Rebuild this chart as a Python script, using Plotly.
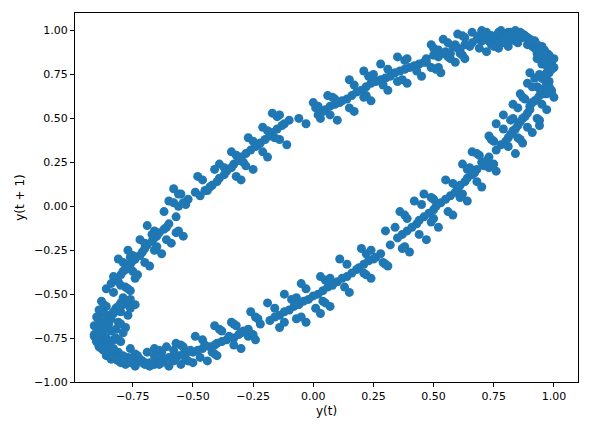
import plotly.graph_objects as go

series = [
    0.05, 0.55, 0.88, 0.97, 0.70, 0.25, -0.30, -0.72, -0.87, -0.82, -0.42,
    0.12, 0.60, 0.90, 0.95, 0.66, 0.18, -0.36, -0.76, -0.88, -0.78, -0.36,
    0.20, 0.66, 0.93, 0.92, 0.60, 0.10, -0.43, -0.80, -0.87, -0.74, -0.30,
    0.28, 0.72, 0.96, 0.89, 0.53, 0.02, -0.50, -0.83, -0.86, -0.69, -0.22,
    0.36, 0.77, 0.98, 0.85, 0.46, -0.06, -0.56, -0.85, -0.84, -0.64, -0.15,
    0.44, 0.81, 0.99, 0.81, 0.39, -0.14, -0.62, -0.87, -0.82, -0.58,
    0.02, 0.52, 0.85, 0.95, 0.73, 0.28, -0.27, -0.70, -0.89, -0.80, -0.45,
    0.09, 0.58, 0.91, 0.93, 0.68, 0.21, -0.33, -0.75, -0.86, -0.80, -0.39,
    0.16, 0.63, 0.92, 0.94, 0.63, 0.14, -0.40, -0.78, -0.89, -0.76, -0.33,
    0.24, 0.70, 0.94, 0.90, 0.57, 0.06, -0.46, -0.81, -0.84, -0.71, -0.26,
    0.32, 0.74, 0.97, 0.87, 0.50, -0.02, -0.53, -0.84, -0.87, -0.66, -0.18,
    0.40, 0.79, 0.96, 0.83, 0.43, -0.10, -0.59, -0.86, -0.83, -0.61, -0.12,
    0.47, 0.84, 0.99, 0.78, 0.35, -0.18, -0.65, -0.88, -0.80, -0.55,
    0.07, 0.57, 0.87, 0.98, 0.71, 0.23, -0.31, -0.73, -0.85, -0.83, -0.40,
    0.14, 0.61, 0.89, 0.96, 0.64, 0.16, -0.38, -0.77, -0.86, -0.77, -0.34,
    0.22, 0.68, 0.95, 0.91, 0.59, 0.08, -0.45, -0.79, -0.88, -0.72, -0.28,
    0.30, 0.73, 0.94, 0.88, 0.51, 0.00, -0.51, -0.82, -0.85, -0.67, -0.20,
    0.38, 0.78, 1.00, 0.84, 0.44, -0.08, -0.57, -0.86, -0.85, -0.62, -0.13,
    0.46, 0.82, 0.97, 0.80, 0.37, -0.16, -0.63, -0.87, -0.81, -0.57, -0.06,
    0.50, 0.86, 0.98, 0.76, 0.32, -0.22, -0.67, -0.89, -0.79, -0.52,
    0.04, 0.54, 0.87, 0.96, 0.72, 0.26, -0.29, -0.71, -0.88, -0.81, -0.43,
    0.11, 0.59, 0.92, 0.94, 0.67, 0.19, -0.35, -0.74, -0.87, -0.79, -0.37,
    0.18, 0.65, 0.91, 0.93, 0.61, 0.12, -0.41, -0.79, -0.86, -0.75, -0.31,
    0.26, 0.71, 0.95, 0.90, 0.55, 0.04, -0.48, -0.82, -0.87, -0.70, -0.24,
    0.34, 0.76, 0.97, 0.86, 0.48, -0.04, -0.54, -0.84, -0.85, -0.65, -0.17,
    0.42, 0.80, 0.98, 0.82, 0.41, -0.12, -0.60, -0.86, -0.83, -0.60, -0.10,
    # noisier stretch
    0.49, 0.79, 0.93, 0.84, 0.30, -0.14, -0.69, -0.83, -0.76, -0.58,
    0.10, 0.49, 0.92, 0.90, 0.76, 0.20, -0.24, -0.76, -0.81, -0.86, -0.47,
    0.06, 0.63, 0.84, 1.00, 0.62, 0.24, -0.41, -0.68, -0.91, -0.73, -0.39,
    0.24, 0.60, 0.98, 0.86, 0.64, 0.03, -0.40, -0.85, -0.80, -0.77, -0.25,
    0.21, 0.77, 0.90, 0.94, 0.46, 0.07, -0.57, -0.78, -0.90, -0.63, -0.27,
    0.39, 0.70, 1.00, 0.79, 0.52, -0.12, -0.50, -0.89, -0.78, -0.69, -0.11,
    0.35, 0.85, 0.93, 0.87, 0.36, -0.03, -0.66, -0.81, -0.88, -0.54, -0.17,
    0.53, 0.76, 0.95, 0.73, 0.40, -0.26, -0.60, -0.91, -0.74, -0.56,
    0.00, 0.59, 0.82, 0.99, 0.66, 0.31, -0.34, -0.66, -0.90, -0.76, -0.48,
    0.17, 0.54, 0.95, 0.89, 0.70, 0.11, -0.30, -0.81, -0.83, -0.81, -0.30,
    0.15, 0.72, 0.88, 0.97, 0.55, 0.15, -0.49, -0.74, -0.91, -0.68, -0.34,
    0.31, 0.66, 0.99, 0.83, 0.58, -0.05, -0.44, -0.88, -0.79, -0.72, -0.19,
    0.28, 0.81, 0.91, 0.91, 0.42, 0.03, -0.61, -0.80, -0.89, -0.59, -0.21,
    0.45, 0.74, 0.97, 0.76, 0.47, -0.19, -0.55, -0.90, -0.77, -0.62, -0.03,
    # middle-noise stretch
    0.47, 0.82, 0.95, 0.81, 0.34, -0.12, -0.66, -0.85, -0.79, -0.56,
    0.07, 0.52, 0.89, 0.92, 0.73, 0.22, -0.27, -0.74, -0.84, -0.84, -0.44,
    0.09, 0.61, 0.87, 0.97, 0.64, 0.21, -0.38, -0.71, -0.89, -0.75, -0.37,
    0.22, 0.63, 0.96, 0.88, 0.61, 0.05, -0.42, -0.83, -0.82, -0.75, -0.28,
    0.23, 0.74, 0.92, 0.93, 0.50, 0.04, -0.54, -0.80, -0.88, -0.66, -0.25,
    0.37, 0.72, 0.99, 0.82, 0.49, -0.09, -0.53, -0.87, -0.81, -0.66, -0.14,
    0.38, 0.83, 0.95, 0.86, 0.38, -0.05, -0.63, -0.83, -0.86, -0.57, -0.15,
    0.51, 0.78, 0.97, 0.75, 0.37, -0.24, -0.63, -0.89, -0.77, -0.54,
    0.02, 0.57, 0.84, 0.97, 0.69, 0.29, -0.32, -0.68, -0.89, -0.78, -0.46,
    0.15, 0.56, 0.93, 0.91, 0.68, 0.14, -0.33, -0.79, -0.85, -0.79, -0.32,
    0.17, 0.69, 0.90, 0.95, 0.58, 0.13, -0.46, -0.76, -0.89, -0.70, -0.32,
    0.29, 0.69, 0.97, 0.85, 0.56, -0.03, -0.47, -0.86, -0.82, -0.70, -0.21,
    0.31, 0.78, 0.93, 0.89, 0.45, 0.01, -0.58, -0.82, -0.87, -0.61, -0.19,
    0.43, 0.77, 0.99, 0.79, 0.44, -0.16, -0.58, -0.88, -0.80, -0.60,
    # another mixed stretch
    0.03, 0.50, 0.90, 0.94, 0.75, 0.24, -0.25, -0.73, -0.86, -0.83, -0.49,
    0.08, 0.62, 0.86, 0.99, 0.65, 0.22, -0.39, -0.70, -0.90, -0.74, -0.41,
    0.21, 0.62, 0.97, 0.87, 0.62, 0.07, -0.41, -0.84, -0.81, -0.76, -0.29,
    0.25, 0.75, 0.91, 0.94, 0.49, 0.05, -0.55, -0.79, -0.89, -0.65, -0.23,
    0.35, 0.71, 0.98, 0.83, 0.50, -0.07, -0.52, -0.88, -0.80, -0.67, -0.16,
    0.39, 0.84, 0.94, 0.85, 0.39, -0.07, -0.64, -0.82, -0.87, -0.56, -0.14,
    0.52, 0.79, 0.96, 0.74, 0.38, -0.23, -0.64, -0.90, -0.76, -0.53,
    0.01, 0.56, 0.85, 0.98, 0.68, 0.30, -0.33, -0.67, -0.90, -0.77, -0.47,
]

yt = series[:-1]
yt1 = series[1:]

fig = go.Figure(go.Scatter(x=yt, y=yt1, mode="markers",
                           marker=dict(color="#1f77b4", size=9)))

axis = dict(showgrid=False, zeroline=False, showline=True, linecolor="black",
            mirror=True, ticks="outside", ticklen=4, tickcolor="black",
            tickformat=".2f", tickfont=dict(size=11, color="black"))
fig.update_xaxes(axis, range=[-0.99, 1.10], dtick=0.25, tick0=0,
                 title=dict(text="y(t)", font=dict(size=12, color="black"), standoff=4))
fig.update_yaxes(axis, range=[-1.0, 1.1], dtick=0.25, tick0=0,
                 title=dict(text="y(t + 1)", font=dict(size=12, color="black"), standoff=6))
fig.update_layout(width=591, height=436, plot_bgcolor="white", paper_bgcolor="white",
                  font=dict(family="DejaVu Sans"), showlegend=False,
                  margin=dict(l=67, r=21, t=5, b=62))
fig.write_html("out.html")
